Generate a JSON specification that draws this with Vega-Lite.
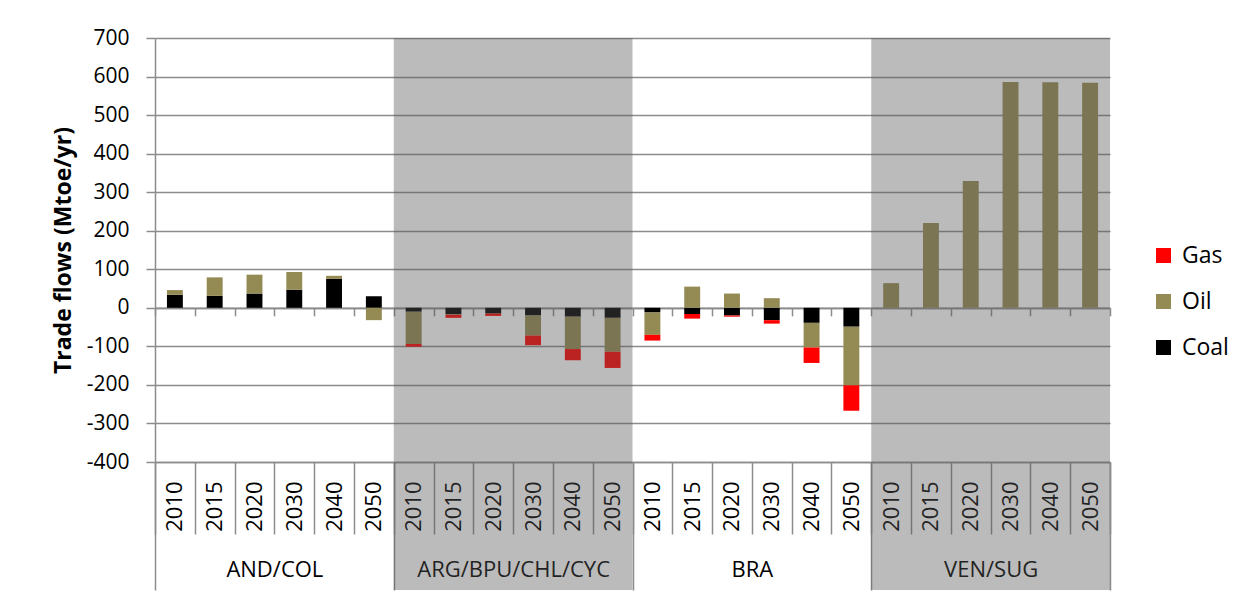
{
  "$schema": "https://vega.github.io/schema/vega-lite/v6.json",
  "width": 955,
  "height": 424,
  "autosize": {"type": "none"},
  "padding": {"left": 155, "top": 38, "right": 126, "bottom": 132},
  "background": "white",
  "config": {
    "font": "Open Sans",
    "view": {"stroke": null},
    "axisY": {
      "titleFontSize": 23, "titleFontWeight": "bold", "titleColor": "#000000", "titlePadding": 11,
      "labelOverlap": false, "labelFlush": false,
      "labelFontSize": 21, "labelColor": "#000000", "labelPadding": 17,
      "tickSize": 9, "tickColor": "#8c8c8c", "tickWidth": 1.5,
      "domainColor": "#8c8c8c", "domainWidth": 1.5,
      "grid": true, "gridColor": "#8c8c8c", "gridWidth": 1.5, "zindex": 0
    }
  },
  "data": {
    "values": [
      {"cat": "AND/COL|2010", "Coal": 34, "Oil": 12, "Gas": 0},
      {"cat": "AND/COL|2015", "Coal": 31, "Oil": 48, "Gas": 0},
      {"cat": "AND/COL|2020", "Coal": 37, "Oil": 49, "Gas": 0},
      {"cat": "AND/COL|2030", "Coal": 47, "Oil": 46, "Gas": 0},
      {"cat": "AND/COL|2040", "Coal": 75, "Oil": 8, "Gas": 0},
      {"cat": "AND/COL|2050", "Coal": 30, "Oil": -32, "Gas": 0},
      {"cat": "ARG/BPU/CHL/CYC|2010", "Coal": -10, "Oil": -84, "Gas": -7},
      {"cat": "ARG/BPU/CHL/CYC|2015", "Coal": -17, "Oil": -1, "Gas": -8},
      {"cat": "ARG/BPU/CHL/CYC|2020", "Coal": -15, "Oil": 0, "Gas": -6},
      {"cat": "ARG/BPU/CHL/CYC|2030", "Coal": -20, "Oil": -52, "Gas": -25},
      {"cat": "ARG/BPU/CHL/CYC|2040", "Coal": -23, "Oil": -84, "Gas": -29},
      {"cat": "ARG/BPU/CHL/CYC|2050", "Coal": -26, "Oil": -88, "Gas": -42},
      {"cat": "BRA|2010", "Coal": -12, "Oil": -58, "Gas": -15},
      {"cat": "BRA|2015", "Coal": -16, "Oil": 55, "Gas": -12},
      {"cat": "BRA|2020", "Coal": -20, "Oil": 37, "Gas": -3},
      {"cat": "BRA|2030", "Coal": -32, "Oil": 25, "Gas": -9},
      {"cat": "BRA|2040", "Coal": -39, "Oil": -64, "Gas": -40},
      {"cat": "BRA|2050", "Coal": -49, "Oil": -152, "Gas": -66},
      {"cat": "VEN/SUG|2010", "Coal": 0, "Oil": 64, "Gas": 0},
      {"cat": "VEN/SUG|2015", "Coal": 0, "Oil": 220, "Gas": 0},
      {"cat": "VEN/SUG|2020", "Coal": 0, "Oil": 329, "Gas": 0},
      {"cat": "VEN/SUG|2030", "Coal": 0, "Oil": 586, "Gas": 0},
      {"cat": "VEN/SUG|2040", "Coal": 0, "Oil": 585, "Gas": 0},
      {"cat": "VEN/SUG|2050", "Coal": 0, "Oil": 584, "Gas": 0}
    ]
  },
  "layer": [
    {
      "transform": [
        {"fold": ["Coal", "Oil", "Gas"], "as": ["fuel", "value"]},
        {"calculate": "datum.fuel === 'Coal' ? 1 : (datum.fuel === 'Oil' ? 2 : 3)", "as": "ord"}
      ],
      "mark": {"type": "bar", "width": {"band": 0.4}},
      "encoding": {
        "x": {
          "field": "cat", "type": "nominal", "sort": null,
          "scale": {"paddingInner": 0, "paddingOuter": 0},
          "axis": {
            "orient": "bottom", "title": null,
            "labelExpr": "split(datum.label, '|')[1]",
            "labelAngle": 270, "labelFontSize": 22, "labelColor": "#000000",
            "labelPadding": -53, "labelOverlap": false,
            "tickBand": "extent", "tickSize": 72, "tickColor": "#8c8c8c", "tickWidth": 1.5,
            "domainColor": "#8c8c8c", "domainWidth": 1.5, "grid": false, "zindex": 0
          }
        },
        "y": {
          "field": "value", "type": "quantitative", "stack": "zero",
          "scale": {"domain": [-400, 700], "nice": false, "zero": false},
          "axis": {
            "title": "Trade flows (Mtoe/yr)",
            "values": [-400, -300, -200, -100, 0, 100, 200, 300, 400, 500, 600, 700],
            "tickCount": 12,
            "labelExpr": "'' + datum.value"
          }
        },
        "color": {
          "field": "fuel", "type": "nominal",
          "scale": {"domain": ["Gas", "Oil", "Coal"], "range": ["#ff0000", "#948a54", "#000000"]},
          "legend": {
            "title": null, "orient": "none", "legendX": 997, "legendY": 206,
            "symbolType": "square", "symbolSize": 225, "symbolStrokeWidth": 0,
            "labelFontSize": 23, "labelColor": "#000000", "rowPadding": 22, "labelOffset": 7
          }
        },
        "order": {"field": "ord", "type": "quantitative"}
      }
    },
    {
      "mark": {"type": "point", "opacity": 0},
      "encoding": {
        "x": {
          "field": "cat", "type": "nominal", "sort": null,
          "scale": {"paddingInner": 0, "paddingOuter": 0},
          "axis": {
            "orient": "bottom", "offset": -154.18, "title": null, "labels": false,
            "tickBand": "extent", "tickSize": 8, "tickColor": "#8c8c8c", "tickWidth": 1.5,
            "domainColor": "#8c8c8c", "domainWidth": 1.8, "grid": false, "zindex": 0
          }
        }
      }
    },
    {
      "data": {"values": [{"region": "ARG/BPU/CHL/CYC"}, {"region": "VEN/SUG"}]},
      "mark": {"type": "rect", "fill": "#555555", "opacity": 0.4},
      "encoding": {
        "x": {
          "field": "region", "type": "nominal",
          "scale": {"domain": ["AND/COL", "ARG/BPU/CHL/CYC", "BRA", "VEN/SUG"], "paddingInner": 0, "paddingOuter": 0},
          "axis": {
            "orient": "bottom", "title": null, "labelAngle": 0, "labelFontSize": 22,
            "labelColor": "#000000", "labelPadding": -31, "labelLimit": 0, "labelOverlap": false,
            "tickBand": "extent", "tickSize": 128, "tickColor": "#8c8c8c", "tickWidth": 1.5,
            "domain": false, "grid": false, "zindex": 0
          }
        },
        "y": {
          "datum": 700, "type": "quantitative",
          "axis": {
            "title": "Trade flows (Mtoe/yr)",
            "values": [-400, -300, -200, -100, 0, 100, 200, 300, 400, 500, 600, 700],
            "tickCount": 12,
            "labelExpr": "'' + datum.value"
          }
        },
        "y2": {"datum": -732}
      }
    }
  ],
  "resolve": {"scale": {"x": "independent"}}
}
